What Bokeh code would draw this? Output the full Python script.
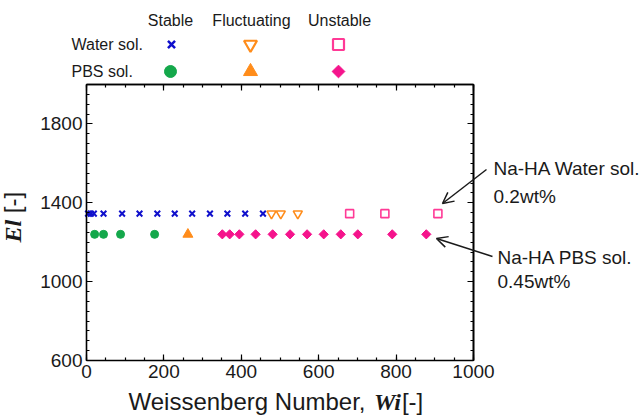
import numpy as np
from bokeh.plotting import figure
from bokeh.models import Range1d, FixedTicker, LinearAxis, Label, Arrow, OpenHead
from bokeh.embed import file_html
from bokeh.resources import INLINE
from bokeh.core.properties import value

# ---------------- data ----------------
water_stable_wi = [4, 11, 19, 44, 92, 137, 183, 228, 273, 319, 364, 410, 456]
water_fluct_wi = [478, 502, 546]
water_unstable_wi = [680, 771, 908]
water_el = 1345
pbs_stable_wi = [21, 44, 88, 176]
pbs_fluct_wi = [262]
pbs_unstable_wi = [351, 370, 395, 437, 481, 526, 570, 613, 657, 701, 790, 878]
pbs_el = 1240

states = ["Stable", "Fluctuating", "Unstable"]
solutions = ["Water sol.", "PBS sol."]
x_ticks = [0, 200, 400, 600, 800, 1000]
y_ticks = [600, 1000, 1400, 1800]
x_minor = list(range(0, 1001, 50))
y_minor = list(range(600, 2001, 50))
X_MIN, X_MAX = 0, 1000
Y_MIN, Y_MAX = 600, 2000

# ---------------- style ----------------
BLUE = "#1010cc"
ORANGE = "#ff8c1a"
GREEN = "#14a84b"
PINK = "#ff3a96"
MAGENTA = "#f5148c"
TXT = "#1a1a1a"
SANS = "Liberation Sans"
SERIF = "Liberation Serif"

W, H = 644, 415
FL, FR, FT, FB = 86, 473, 84, 360  # plot box edges in page pixels


def dx(px):
    return X_MIN + (px - FL) * (X_MAX - X_MIN) / (FR - FL)


def dy(py):
    return Y_MIN + (FB - py) * (Y_MAX - Y_MIN) / (FB - FT)


p = figure(width=W, height=H, x_range=Range1d(dx(0), dx(W)), y_range=Range1d(dy(H), dy(0)),
           output_backend="svg", toolbar_location=None, title=None, min_border=0,
           x_axis_location=None, y_axis_location=None, outline_line_color=None)
p.xgrid.visible = False
p.ygrid.visible = False


def make_axis(ticks, minor, loc, bounds, major_len=6, minor_len=3):
    ax = LinearAxis(ticker=FixedTicker(ticks=ticks, minor_ticks=minor), fixed_location=loc,
                    bounds=bounds)
    ax.axis_line_color = "black"
    ax.axis_line_width = 1.6
    ax.major_tick_in = major_len
    ax.major_tick_out = 0
    ax.minor_tick_in = minor_len
    ax.minor_tick_out = 0
    ax.major_tick_line_width = 1.2
    ax.minor_tick_line_width = 1.2
    ax.major_tick_line_color = "black"
    ax.minor_tick_line_color = "black"
    ax.major_label_text_font = SANS
    ax.major_label_text_font_size = "19px"
    ax.major_label_text_color = TXT
    ax.major_label_standoff = 4
    return ax


# bottom and left axes with labels
p.add_layout(make_axis(x_ticks, x_minor, Y_MIN, (X_MIN, X_MAX)), "below")
p.add_layout(make_axis(y_ticks, y_minor, X_MIN, (Y_MIN, Y_MAX)), "left")
# mirrored tick marks on top and right (no labels)
p.add_layout(make_axis([], x_minor, Y_MAX, (X_MIN, X_MAX)), "above")
p.add_layout(make_axis([], x_ticks, Y_MAX, (X_MIN, X_MAX), minor_len=6), "above")
p.add_layout(make_axis([], y_minor, X_MAX, (Y_MIN, Y_MAX)), "right")
p.add_layout(make_axis([], y_ticks, X_MAX, (Y_MIN, Y_MAX), minor_len=6), "right")

# series
p.scatter(water_stable_wi, [water_el] * len(water_stable_wi), marker="x", size=8,
          line_color=BLUE, line_width=2)
p.scatter(water_fluct_wi, [water_el] * len(water_fluct_wi), marker="inverted_triangle", size=9,
          fill_color="white", line_color=ORANGE, line_width=1.6)
p.scatter(water_unstable_wi, [water_el] * len(water_unstable_wi), marker="square", size=8,
          fill_color="white", line_color=PINK, line_width=1.6)
p.scatter(pbs_stable_wi, [pbs_el] * len(pbs_stable_wi), marker="circle", size=8,
          fill_color=GREEN, line_color=GREEN)
p.scatter(pbs_fluct_wi, [pbs_el] * len(pbs_fluct_wi), marker="triangle", size=10,
          fill_color=ORANGE, line_color=ORANGE)
p.scatter(pbs_unstable_wi, [pbs_el] * len(pbs_unstable_wi), marker="square", angle=np.pi / 4,
          size=6.5, fill_color=MAGENTA, line_color=MAGENTA)

# ---------------- legend (table above the plot) ----------------
col_px = [170, 251, 339]
row_py = [44, 71]
p.text(x=[dx(c) for c in col_px], y=[dy(20)] * 3, text=states, text_align="center",
       text_baseline="alphabetic", text_font=value(SANS), text_font_size="16px", text_color=TXT)
p.text(x=[dx(71)] * 2, y=[dy(44), dy(71)], text=solutions, text_align="left",
       text_baseline="alphabetic", text_font=value(SANS), text_font_size="16px", text_color=TXT)
p.scatter([dx(171)], [dy(row_py[0])], marker="x", size=10, line_color=BLUE, line_width=2.5)
p.scatter([dx(250)], [dy(row_py[0])], marker="inverted_triangle", size=13, fill_color="white",
          line_color=ORANGE, line_width=2.2)
p.scatter([dx(338)], [dy(row_py[0])], marker="square", size=11, fill_color="white",
          line_color=PINK, line_width=2.2)
p.scatter([dx(170)], [dy(row_py[1])], marker="circle", size=12, fill_color=GREEN, line_color=GREEN)
p.scatter([dx(250)], [dy(row_py[1])], marker="triangle", size=14, fill_color=ORANGE,
          line_color=ORANGE)
p.scatter([dx(338)], [dy(row_py[1])], marker="square", angle=np.pi / 4, size=9,
          fill_color=MAGENTA, line_color=MAGENTA)

# ---------------- annotations ----------------
p.add_layout(Arrow(end=OpenHead(size=11, line_width=1.5, line_color=TXT),
                   x_start=dx(486), y_start=dy(169), x_end=dx(442), y_end=dy(203),
                   line_width=1.5, line_color=TXT))
p.add_layout(Arrow(end=OpenHead(size=11, line_width=1.5, line_color=TXT),
                   x_start=dx(492), y_start=dy(256), x_end=dx(436), y_end=dy(238),
                   line_width=1.5, line_color=TXT))

for txt, px, py in [("Na-HA Water sol.", 493, 167.5), ("0.2wt%", 493, 196),
                    ("Na-HA PBS sol.", 497, 257), ("0.45wt%", 497, 281)]:
    p.add_layout(Label(x=dx(px), y=dy(py), text=txt, text_font=SANS, text_font_size="19px",
                       text_color=TXT, text_align="left", text_baseline="alphabetic"))

# x axis title (mixed fonts)
FS = 24
x0 = 128
part1_w = 10.225 * FS
wi_w = 1.167 * FS
base_x = 401
p.add_layout(Label(x=dx(x0), y=dy(base_x), text="Weissenberg Number,", text_font=SANS,
                   text_font_size=f"{FS}px", text_color=TXT, text_align="left",
                   text_baseline="alphabetic"))
p.add_layout(Label(x=dx(x0 + part1_w), y=dy(base_x), text="Wi", text_font=SERIF,
                   text_font_style="bold italic", text_font_size=f"{FS}px", text_color=TXT,
                   text_align="left", text_baseline="alphabetic"))
p.add_layout(Label(x=dx(x0 + part1_w + wi_w), y=dy(base_x), text="[-]", text_font=SANS,
                   text_font_size=f"{FS}px", text_color=TXT, text_align="left",
                   text_baseline="alphabetic"))

# y axis title (rotated, mixed fonts)
y0 = 242
el_w = 0.945 * FS
bx = 12
p.add_layout(Label(x=dx(bx), y=dy(y0), text="El", text_font=SERIF, text_font_style="bold italic",
                   text_font_size=f"{FS}px", text_color=TXT, angle=np.pi / 2,
                   text_align="left", text_baseline="alphabetic"))
p.add_layout(Label(x=dx(bx), y=dy(y0 - el_w - 0.278 * FS), text="[-]", text_font=SANS,
                   text_font_size=f"{FS}px", text_color=TXT, angle=np.pi / 2,
                   text_align="left", text_baseline="alphabetic"))

open("out.html", "w").write(file_html(p, INLINE))
